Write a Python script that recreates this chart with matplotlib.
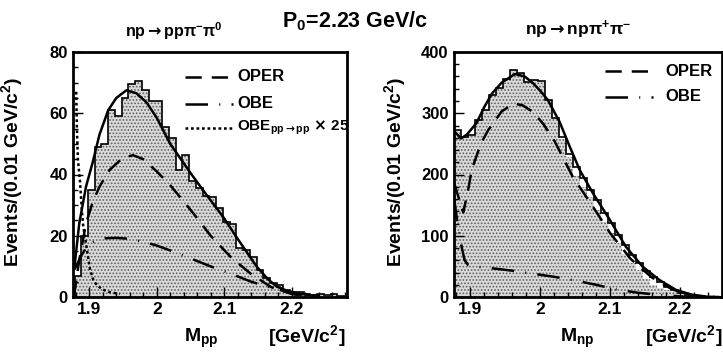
import numpy as np
import matplotlib
matplotlib.use("Agg")
import matplotlib.pyplot as plt
from matplotlib.ticker import MultipleLocator

plt.rcParams['font.family'] = ['Liberation Sans', 'DejaVu Sans']
plt.rcParams['font.weight'] = 'bold'
plt.rcParams['mathtext.fontset'] = 'custom'
plt.rcParams['mathtext.rm'] = 'Liberation Sans:bold'
plt.rcParams['mathtext.bf'] = 'Liberation Sans:bold'
plt.rcParams['mathtext.it'] = 'Liberation Sans:bold'
plt.rcParams['mathtext.sf'] = 'DejaVu Sans'
plt.rcParams['mathtext.default'] = 'bf'
plt.rcParams['hatch.linewidth'] = 0.8

# ---- np -> pp pi- pi0 (left panel) ----
pp_bin_start = 1.878
pp_counts = [7, 20, 35, 49, 50, 61, 59, 65, 69.5, 70.5, 67.5, 64, 64, 55.5, 52,
             41.5, 46.5, 38, 35.5, 33, 32.5, 29, 24.5, 24, 16, 15.3, 13, 8.8, 6.2, 4.5,
             4, 2.2, 1.7, 1.5, 1, 0.6, 1, 0.5, 1, 0.3, 0]

pp_total_m = [1.878, 1.885, 1.895, 1.905, 1.915, 1.928, 1.94, 1.955, 1.97, 1.985, 2.0,
              2.02, 2.05, 2.075, 2.099, 2.12, 2.148, 2.165, 2.178, 2.195, 2.213, 2.24]
pp_total = [10, 24, 36, 44, 53, 61, 65, 67.5, 66.5, 63.5, 58.5,
            50, 40.5, 33, 26, 19, 10, 5.8, 3.4, 1.9, 1.0, 0.3]

pp_oper_m = [1.877, 1.885, 1.895, 1.905, 1.915, 1.93, 1.95, 1.965, 1.98, 2.0, 2.02,
             2.05, 2.08, 2.11, 2.14, 2.17, 2.2, 2.22]
pp_oper = [0, 12, 24, 31, 36, 41.5, 45.5, 46.3, 45, 41, 36.5, 28.5, 20, 13, 7.5, 3.2, 1, 0.2]

pp_obe_m = [1.878, 1.888, 1.898, 1.91, 1.925, 1.94, 1.96, 1.98, 2.0, 2.02, 2.05, 2.08,
            2.11, 2.14, 2.17, 2.2, 2.22, 2.24]
pp_obe = [9, 13.5, 17, 18.5, 19.2, 19.3, 19, 18, 16.8, 15.2, 12.6, 10, 7.6, 5, 3, 1.3, 0.4, 0]

pp_obepp_m = [1.8805, 1.8815, 1.883, 1.886, 1.889, 1.891, 1.896, 1.901, 1.906, 1.911,
              1.92, 1.93, 1.945]
pp_obepp = [67, 55, 45, 38, 28, 23, 16, 9, 5.5, 3.9, 2.4, 1.6, 1.0]

# ---- np -> np pi+ pi- (right panel) ----
np_bin_start = 1.877
np_counts = [272, 262, 264, 289, 305, 330, 341, 356, 370, 366, 351, 354, 353, 322, 292,
             262, 234, 212, 194, 174, 158, 137, 121, 101, 85, 68, 56, 43, 33, 24,
             17, 12, 7, 4, 2, 1, 0.5, 0, 0]
np_sim = [272, 262, 264, 289, 305, 330, 341, 356, 370, 366, 351, 354, 353, 322, 292,
          258, 228, 198, 180, 163, 142, 122, 104, 88, 70, 55, 44, 30, 20, 15,
          11, 8, 6, 3.5, 2, 1, 0.5, 0, 0]

np_total_m = [1.877, 1.879, 1.887, 1.895, 1.909, 1.92, 1.931, 1.945, 1.964, 1.978, 1.99,
              2.0, 2.011, 2.028, 2.042, 2.057, 2.076, 2.1, 2.123, 2.147, 2.171, 2.195,
              2.219, 2.238, 2.255]
np_total = [272, 268, 259, 265, 284, 310, 332, 350, 364, 360, 349,
            337, 322, 286, 247, 207, 169, 126, 82, 49.5, 27.8, 11.4,
            3.3, 0.5, 0]

np_oper_m = [1.877, 1.884, 1.890, 1.897, 1.902, 1.915, 1.926, 1.945, 1.962, 1.975, 1.99,
             2.005, 2.021, 2.047, 2.066, 2.08, 2.1, 2.13, 2.16, 2.19, 2.22, 2.25]
np_oper = [185, 160, 138, 175, 207, 250, 273, 303, 316, 313, 302,
           282, 254, 196, 164, 140, 105, 62, 32, 12, 2.5, 0]

np_obe_m = [1.877, 1.880, 1.884, 1.888, 1.892, 1.897, 1.905, 1.93, 1.96, 1.99, 2.02,
            2.05, 2.08, 2.11, 2.14, 2.17, 2.2, 2.22]
np_obe = [160, 135, 105, 80, 60, 52, 50, 47, 43, 38, 33, 27, 20, 12, 7, 3.5, 1, 0]

W, H = 723, 353
fig = plt.figure(figsize=(W / 100, H / 100), dpi=100)
ax1 = fig.add_axes([72.5 / W, 56 / H, 275 / W, 245 / H])
ax2 = fig.add_axes([453.5 / W, 56 / H, 268 / W, 245 / H])

oper_ls = (0, (6.5, 4))
obe_ls = (0, (9, 4.5, 0.4, 4.5))
lw = 1.8


def draw_hist(ax, start, fill_vals, line_vals):
    edges = start + 0.01 * np.arange(len(line_vals) + 1)
    ax.stairs(fill_vals, edges, fill=True, facecolor='#dadada', edgecolor='#5e5e5e',
              hatch='.....', linewidth=0)
    ax.stairs(line_vals, edges, color='black', linewidth=1.2)


def style_axes(ax, ymax, ymajor, yminor):
    ax.set_ylim(0, ymax)
    ax.xaxis.set_major_locator(MultipleLocator(0.1))
    ax.xaxis.set_minor_locator(MultipleLocator(0.02))
    ax.yaxis.set_major_locator(MultipleLocator(ymajor))
    ax.yaxis.set_minor_locator(MultipleLocator(yminor))
    ax.xaxis.set_major_formatter(plt.FuncFormatter(lambda v, p: f"{v:g}"))
    ax.tick_params(which='both', direction='in', top=False, right=False, width=1.0)
    ax.tick_params(axis='x', labelsize=12.5)
    ax.tick_params(axis='y', labelsize=12)
    ax.tick_params(which='major', length=7, pad=3.5)
    ax.tick_params(which='minor', length=3.5)
    for sp in ax.spines.values():
        sp.set_linewidth(2.0)
    for lab in ax.get_xticklabels() + ax.get_yticklabels():
        lab.set_fontweight('bold')


# left panel
draw_hist(ax1, pp_bin_start, pp_counts, pp_counts)
ax1.plot(pp_total_m, pp_total, color='black', lw=lw)
ax1.plot(pp_oper_m, pp_oper, color='black', lw=lw, linestyle=oper_ls)
ax1.plot(pp_obe_m, pp_obe, color='black', lw=lw, linestyle=obe_ls)
ax1.plot(pp_obepp_m, pp_obepp, color='black', lw=lw, linestyle=(0, (1.1, 1.1)))
ax1.set_xlim(1.875, 2.283)
style_axes(ax1, 80, 20, 5)

# right panel
draw_hist(ax2, np_bin_start, np_sim, np_counts)
ax2.plot(np_total_m, np_total, color='black', lw=lw)
ax2.plot(np_oper_m, np_oper, color='black', lw=lw, linestyle=oper_ls)
ax2.plot(np_obe_m, np_obe, color='black', lw=lw, linestyle=obe_ls)
ax2.set_xlim(1.876, 2.26)
style_axes(ax2, 400, 100, 20)

# legends drawn by hand
def leg_entry(ax, x0, x1, y, ls, text, gap, size=12):
    ax.plot([x0, x1], [y, y], transform=ax.transAxes, color='black', lw=lw,
            linestyle=ls, clip_on=False)
    ax.text(x1 + gap, y, text, transform=ax.transAxes, va='center', ha='left',
            fontsize=size, fontweight='bold')

leg_entry(ax1, 0.409, 0.584, 0.898, oper_ls, 'OPER', 0.014)
leg_entry(ax1, 0.409, 0.584, 0.788, obe_ls, 'OBE', 0.014)
leg_entry(ax1, 0.409, 0.584, 0.690, (0, (1.1, 1.1)),
          r'OBE$_{pp\mathsf{\rightarrow}pp}$ $\mathsf{\times}$ 25', 0.014, size=11)
leg_entry(ax2, 0.565, 0.745, 0.922, oper_ls, 'OPER', 0.044)
leg_entry(ax2, 0.565, 0.745, 0.818, obe_ls, 'OBE', 0.044)

# titles and labels
fig.text(355 / W, 1 - 21 / H, 'P$_0$=2.23 GeV/c', ha='center', va='center', fontsize=15.5)
fig.text(174 / W, 1 - 31 / H, r'np$\mathsf{\rightarrow}$pp$\pi^{-}\pi^{0}$', ha='center',
         va='center', fontsize=11.5)
fig.text(578 / W, 1 - 30 / H, r'np$\mathsf{\rightarrow}$np$\pi^{+}\pi^{-}$', ha='center',
         va='center', fontsize=12.5)

for ax, xc in ((ax1, 25), (ax2, 408)):
    ax.set_ylabel('Events/(0.01 GeV/c$^2$)', fontsize=14, fontweight='bold')
    x0 = ax.get_position().x0 * W
    ax.yaxis.set_label_coords((xc - x0) / (ax.get_position().width * W), 0.51)

fig.text(201 / W, 1 - 338 / H, 'M$_{pp}$', ha='center', va='center', fontsize=14)
fig.text(345 / W, 1 - 336 / H, '[GeV/c$^2$]', ha='right', va='center', fontsize=14)
fig.text(577 / W, 1 - 338 / H, 'M$_{np}$', ha='center', va='center', fontsize=14)
fig.text(722 / W, 1 - 336 / H, '[GeV/c$^2$]', ha='right', va='center', fontsize=14)

fig.savefig('out.png', dpi=100)
